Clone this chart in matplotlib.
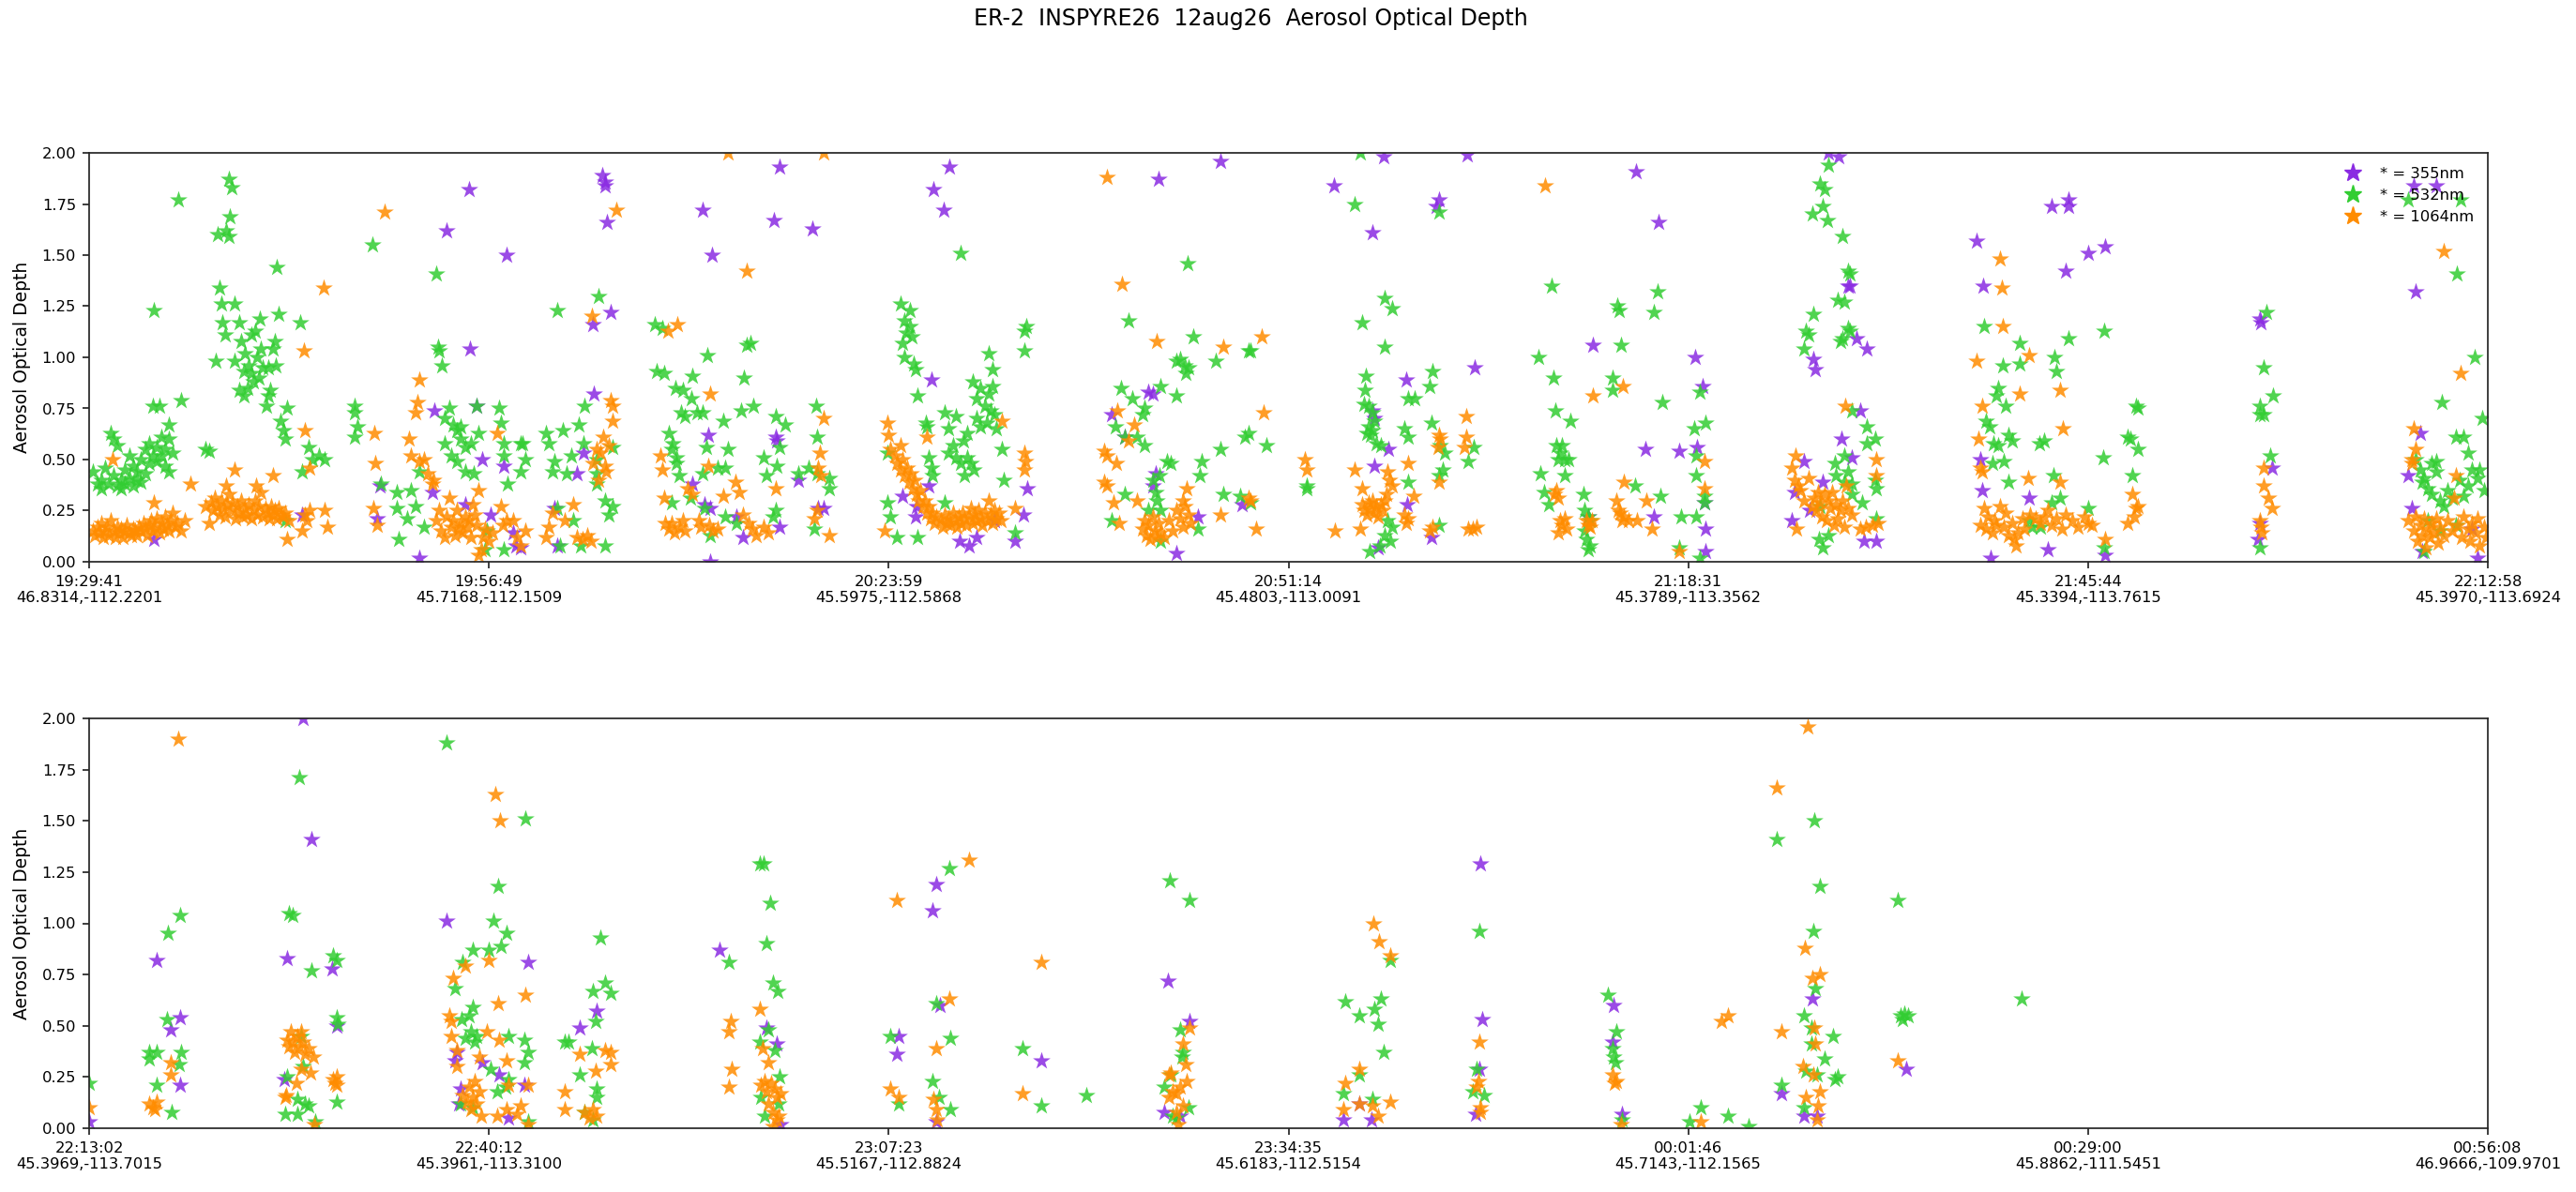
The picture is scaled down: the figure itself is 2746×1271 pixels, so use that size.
import matplotlib
matplotlib.use("Agg")
import matplotlib.pyplot as plt
from matplotlib.lines import Line2D
import numpy as np

# ---------------- data (x = position in tick intervals, y = AOD) ----------------
top_ticklabels = ['19:29:41\n46.8314,-112.2201', '19:56:49\n45.7168,-112.1509',
                  '20:23:59\n45.5975,-112.5868', '20:51:14\n45.4803,-113.0091',
                  '21:18:31\n45.3789,-113.3562', '21:45:44\n45.3394,-113.7615',
                  '22:12:58\n45.3970,-113.6924']
bot_ticklabels = ['22:13:02\n45.3969,-113.7015', '22:40:12\n45.3961,-113.3100',
                  '23:07:23\n45.5167,-112.8824', '23:34:35\n45.6183,-112.5154',
                  '00:01:46\n45.7143,-112.1565', '00:29:00\n45.8862,-111.5451',
                  '00:56:08\n46.9666,-109.9701']

top_355 = [(0.163,0.11),(0.533,0.23),(0.72,0.21),(0.727,0.37),(0.827,0.02),(0.858,0.34),(0.864,0.74),
 (0.895,1.62),(0.942,0.28),(0.95,1.82),(0.953,1.04),(0.968,0.76),(0.984,0.50),(1.005,0.23),(1.036,0.47),
 (1.045,1.50),(1.068,0.08),(1.06,0.14),(1.08,0.07),(1.163,0.26),(1.172,0.08),(1.22,0.43),(1.236,0.53),
 (1.26,1.16),(1.263,0.82),(1.284,1.89),(1.29,1.86),(1.29,1.84),(1.296,1.66),(1.305,1.22),
 (1.508,0.38),(1.534,1.72),(1.539,0.28),(1.549,0.62),(1.554,0.26),(1.554,0.00),(1.558,1.50),(1.62,0.22),
 (1.635,0.12),(1.712,1.67),(1.717,0.61),(1.72,0.59),(1.727,1.93),(1.727,0.17),(1.775,0.40),(1.81,1.63),
 (1.823,0.26),(1.837,0.26),
 (2.034,0.32),(2.068,0.22),(2.07,0.27),(2.10,0.37),(2.106,0.89),(2.111,1.82),(2.138,1.72),(2.151,1.93),
 (2.178,0.10),(2.2,0.08),(2.22,0.12),(2.265,0.20),(2.317,0.10),(2.337,0.23),(2.346,0.36),
 (2.557,0.72),(2.59,0.61),(2.65,0.83),(2.66,0.82),(2.668,0.43),(2.66,0.37),(2.676,1.87),(2.72,0.04),
 (2.774,0.22),(2.83,1.96),(2.885,0.28),
 (3.113,1.84),(3.209,0.74),(3.215,0.70),(3.21,1.61),(3.215,0.47),(3.223,0.07),(3.237,1.98),(3.249,0.55),
 (3.295,0.89),(3.298,0.28),(3.357,0.12),(3.37,1.74),(3.377,1.77),(3.446,1.99),(3.466,0.95),
 (3.761,1.06),(3.75,0.22),(3.87,1.91),(3.893,0.55),(3.915,0.22),(3.926,1.66),(3.977,0.54),(4.017,1.00),
 (4.022,0.56),(4.035,0.86),(4.04,0.29),(4.044,0.16),(4.044,0.05),
 (4.26,0.20),(4.265,0.34),(4.29,0.49),(4.304,0.25),(4.313,0.99),(4.318,0.94),(4.337,0.39),(4.35,2.0),
 (4.376,1.98),(4.383,0.60),(4.40,1.35),(4.405,1.35),(4.41,0.51),(4.42,1.09),(4.43,0.74),(4.44,0.10),
 (4.446,1.04),(4.47,0.10),
 (4.72,1.57),(4.735,0.35),(4.737,1.35),(4.73,0.50),(4.757,0.02),(4.853,0.31),(4.90,0.06),(4.91,1.74),
 (4.945,1.42),(4.95,1.77),(4.95,1.74),(5.0,1.51),(5.043,1.54),(5.043,0.03),
 (5.43,1.19),(5.432,1.17),(5.43,0.19),(5.425,0.11),(5.46,0.46),
 (5.80,0.42),(5.81,0.26),(5.815,1.84),(5.82,1.32),(5.83,0.63),(5.835,0.05),(5.87,1.84),(5.96,0.16),(5.975,0.02)]

top_532 = [(0.01,0.44),(0.02,0.38),(0.03,0.36),(0.03,0.40),(0.04,0.46),(0.05,0.38),(0.055,0.63),(0.06,0.60),
 (0.06,0.42),(0.07,0.37),(0.07,0.57),(0.08,0.36),(0.08,0.40),(0.09,0.45),(0.09,0.38),(0.10,0.52),(0.10,0.41),
 (0.11,0.37),(0.11,0.47),(0.12,0.40),(0.12,0.44),(0.13,0.39),(0.13,0.50),(0.14,0.43),(0.14,0.55),(0.15,0.48),
 (0.15,0.58),(0.16,0.52),(0.16,0.76),(0.163,1.23),(0.17,0.56),(0.17,0.49),(0.175,0.76),(0.18,0.61),(0.18,0.52),
 (0.19,0.55),(0.19,0.47),(0.20,0.67),(0.20,0.60),(0.20,0.44),(0.21,0.53),(0.223,1.77),(0.231,0.79),
 (0.29,0.55),(0.30,0.54),(0.317,0.98),(0.322,1.60),(0.325,1.34),(0.331,1.26),(0.333,1.17),(0.341,1.11),
 (0.343,1.62),(0.349,1.87),(0.35,1.59),(0.352,1.69),(0.356,1.83),(0.364,1.26),(0.364,0.98),(0.375,1.17),
 (0.375,0.84),(0.38,1.08),(0.386,0.93),(0.386,0.81),(0.39,1.02),(0.396,0.85),(0.40,0.96),(0.406,0.92),
 (0.406,1.11),(0.41,0.88),(0.416,1.13),(0.42,1.00),(0.425,0.90),(0.428,1.19),(0.43,1.04),(0.435,0.95),
 (0.443,0.76),(0.448,0.95),(0.448,0.81),(0.453,0.84),(0.459,1.04),(0.464,1.08),(0.468,0.96),(0.469,1.44),
 (0.474,1.21),(0.479,0.69),(0.485,0.64),(0.49,0.60),(0.496,0.75),(0.527,1.17),(0.533,0.44),(0.548,0.56),
 (0.559,0.50),(0.574,0.52),(0.59,0.50),(0.49,0.20),
 (0.664,0.76),(0.664,0.73),(0.67,0.66),(0.664,0.61),(0.709,1.55),(0.73,0.38),(0.77,0.34),(0.774,0.11),
 (0.77,0.26),(0.795,0.21),(0.805,0.35),(0.816,0.27),(0.827,0.44),(0.837,0.17),(0.869,1.41),(0.872,1.05),
 (0.875,1.03),(0.882,0.96),(0.90,0.75),(0.89,0.70),(0.91,0.67),(0.92,0.64),(0.93,0.60),(0.93,0.66),
 (0.942,0.56),(0.89,0.58),(0.905,0.52),(0.92,0.49),(0.942,0.44),(0.955,0.58),(0.963,0.43),(0.974,0.63),
 (0.968,0.76),(1.026,0.75),(1.03,0.68),(1.036,0.58),(1.036,0.52),(1.047,0.38),(1.079,0.58),(1.09,0.50),
 (1.079,0.44),(1.085,0.58),(0.99,0.06),(1.037,0.06),(0.995,0.15),(1.142,0.63),(1.171,1.23),(1.184,0.64),
 (1.15,0.58),(1.165,0.49),(1.16,0.44),(1.194,0.43),(1.17,0.26),(1.178,0.08),(1.21,0.20),(1.23,0.08),
 (1.205,0.52),(1.225,0.67),(1.236,0.58),(1.24,0.76),(1.273,1.30),(1.27,0.50),(1.27,0.38),(1.29,0.30),
 (1.30,0.23),(1.31,0.56),(1.31,0.27),(1.29,0.08),(1.27,0.43),(1.415,1.16),(1.42,0.93),
 (1.434,1.14),(1.438,0.92),(1.45,0.63),(1.458,0.55),(1.46,0.58),(1.467,0.85),(1.47,0.51),(1.47,0.48),
 (1.475,0.42),(1.486,0.84),(1.48,0.73),(1.49,0.71),(1.506,0.80),(1.508,0.91),(1.52,0.73),(1.535,0.73),
 (1.546,1.01),(1.544,0.56),(1.534,0.43),(1.573,0.46),(1.587,0.69),(1.597,0.55),(1.59,0.46),(1.63,0.74),
 (1.638,0.90),(1.645,1.06),(1.655,1.07),(1.661,0.76),(1.688,0.51),(1.693,0.42),(1.72,0.47),(1.717,0.71),
 (1.727,0.56),(1.741,0.67),(1.717,0.25),(1.71,0.22),(1.775,0.43),(1.80,0.46),(1.818,0.76),(1.82,0.61),
 (1.82,0.43),(1.851,0.41),(1.851,0.36),(1.813,0.16),(1.554,0.13),(1.458,0.29),(1.505,0.31),(1.54,0.26),
 (1.592,0.22),(1.62,0.19),
 (1.996,0.53),(1.996,0.29),(2.005,0.22),(2.02,0.12),(2.029,1.26),(2.053,1.23),(2.04,1.18),(2.053,1.15),
 (2.044,1.12),(2.058,1.10),(2.034,1.07),(2.039,1.00),(2.063,0.97),(2.068,0.94),(2.072,0.81),(2.072,0.12),
 (2.092,0.68),(2.096,0.66),(2.10,0.51),(2.106,0.46),(2.11,0.42),(2.14,0.73),(2.14,0.29),(2.15,0.65),
 (2.16,0.57),(2.168,0.71),(2.168,0.51),(2.15,0.53),(2.18,1.51),(2.18,0.48),(2.188,0.59),(2.197,0.63),
 (2.197,0.51),(2.205,0.48),(2.212,0.45),(2.21,0.88),(2.22,0.80),(2.22,0.70),(2.23,0.85),(2.23,0.66),
 (2.24,0.76),(2.245,0.68),(2.25,1.02),(2.25,0.82),(2.255,0.74),(2.26,0.94),(2.26,0.86),(2.265,0.72),
 (2.27,0.65),(2.284,0.55),(2.289,0.40),(2.317,0.14),(2.34,1.13),(2.34,1.03),(2.345,1.15),(2.19,0.42),
 (2.557,0.20),(2.567,0.66),(2.58,0.85),(2.59,0.61),(2.59,0.33),(2.6,1.18),(2.61,0.80),(2.62,0.61),
 (2.64,0.75),(2.635,0.72),(2.64,0.57),(2.65,0.25),(2.66,0.40),(2.668,0.34),(2.67,0.30),(2.678,0.42),
 (2.68,0.86),(2.68,0.25),(2.68,0.10),(2.697,0.49),(2.705,0.48),(2.72,0.81),(2.72,0.98),(2.73,0.99),
 (2.74,0.96),(2.743,0.92),(2.75,0.95),(2.747,1.46),(2.762,1.10),(2.774,0.16),(2.778,0.42),(2.783,0.49),
 (2.817,0.98),(2.83,0.55),(2.836,0.33),(2.88,0.32),(2.89,0.61),(2.90,0.63),(2.90,1.03),
 (2.906,1.03),(2.906,0.29),(2.944,0.57),(3.045,0.37),(3.045,0.36),(3.165,1.75),(3.18,2.00),(3.185,1.17),
 (3.192,0.84),(3.194,0.91),(3.19,0.77),(3.20,0.76),(3.21,0.73),(3.215,0.69),(3.20,0.66),(3.21,0.64),
 (3.195,0.63),(3.205,0.62),(3.22,0.58),(3.23,0.57),(3.24,1.29),(3.24,1.05),(3.26,1.24),(3.247,0.20),
 (3.26,0.17),(3.24,0.13),(3.255,0.10),(3.204,0.05),(3.228,0.08),(3.29,0.65),(3.30,0.61),(3.30,0.80),
 (3.315,0.80),(3.30,0.39),(3.353,0.86),(3.357,0.68),(3.36,0.93),(3.377,1.71),(3.38,0.57),(3.39,0.53),
 (3.386,0.45),(3.377,0.42),(3.377,0.18),(3.449,0.49),(3.463,0.56),
 (3.626,1.00),(3.631,0.43),(3.64,0.34),(3.65,0.28),(3.658,1.35),(3.662,0.90),(3.667,0.74),(3.67,0.57),
 (3.685,0.57),(3.68,0.53),(3.69,0.50),(3.675,0.50),(3.70,0.50),(3.692,0.42),(3.705,0.69),(3.737,0.33),
 (3.74,0.25),(3.75,0.22),(3.755,0.20),(3.74,0.15),(3.745,0.11),(3.755,0.08),(3.75,0.06),(3.81,0.90),
 (3.81,0.84),(3.823,1.25),(3.826,1.23),(3.833,1.06),(3.867,0.37),(3.913,1.22),(3.924,1.32),(3.93,0.32),
 (3.934,0.78),(3.982,0.22),(4.015,0.65),(4.02,0.52),(4.02,0.42),(4.02,0.22),(4.03,0.83),(4.04,0.29),
 (4.04,0.32),(4.044,0.68),(3.977,0.07),(4.03,0.02),
 (4.29,1.04),(4.294,1.13),(4.30,1.11),(4.31,1.70),(4.313,1.21),(4.33,1.85),(4.337,1.74),(4.34,1.82),
 (4.347,1.67),(4.35,1.94),(4.386,1.59),(4.39,1.27),(4.375,1.28),(4.38,1.08),(4.385,1.09),(4.40,1.42),
 (4.405,1.41),(4.40,1.14),(4.405,1.13),(4.41,0.74),(4.446,0.66),(4.446,0.58),(4.467,0.60),(4.467,0.40),
 (4.47,0.36),(4.41,0.38),(4.41,0.33),(4.436,0.29),(4.366,0.48),(4.39,0.52),(4.37,0.42),(4.39,0.39),
 (4.40,0.44),(4.33,0.27),(4.328,0.11),(4.337,0.07),(4.35,0.13),(4.47,0.21),
 (4.74,1.15),(4.745,0.69),(4.755,0.66),(4.76,0.48),(4.764,0.58),(4.776,0.85),(4.77,0.81),(4.787,0.96),
 (4.795,0.76),(4.80,0.62),(4.81,0.59),(4.79,0.49),(4.80,0.39),(4.775,0.57),(4.828,1.07),(4.83,0.97),
 (4.853,0.20),(4.86,0.17),(4.878,0.58),(4.89,0.59),(4.88,0.17),(4.91,0.29),(4.914,0.42),(4.917,1.00),
 (4.92,0.93),(4.93,0.31),(4.95,1.09),(5.0,0.26),(5.038,0.51),(5.04,1.13),(5.04,0.07),(5.10,0.61),
 (5.105,0.60),(5.11,0.42),(5.12,0.76),(5.125,0.75),(5.125,0.55),
 (5.43,0.76),(5.43,0.72),(5.44,0.95),(5.44,0.72),(5.446,1.22),(5.456,0.52),(5.463,0.81),(5.43,0.07),
 (5.80,1.77),(5.82,0.50),(5.83,0.45),(5.835,0.39),(5.84,0.41),(5.85,0.36),(5.86,0.33),(5.86,0.48),
 (5.87,0.49),(5.87,0.44),(5.88,0.30),(5.885,0.78),(5.89,0.27),(5.90,0.35),(5.91,0.31),(5.92,0.61),
 (5.923,1.41),(5.93,0.40),(5.933,1.77),(5.94,0.61),(5.94,0.32),(5.95,0.53),(5.95,0.37),(5.96,0.45),
 (5.967,1.00),(5.975,0.41),(5.98,0.45),(5.985,0.70),(5.99,0.35),(5.85,0.20),(5.88,0.15),(5.92,0.18),(5.84,0.05)]

top_1064 = [(0.01,0.15),(0.015,0.13),(0.02,0.17),(0.025,0.14),(0.03,0.19),(0.035,0.12),(0.04,0.15),(0.045,0.17),
 (0.05,0.13),(0.055,0.20),(0.058,0.50),(0.06,0.15),(0.065,0.12),(0.07,0.17),(0.075,0.14),(0.08,0.16),
 (0.085,0.12),(0.09,0.15),(0.095,0.18),(0.10,0.14),(0.105,0.13),(0.11,0.16),(0.115,0.15),(0.12,0.13),
 (0.125,0.17),(0.13,0.15),(0.135,0.19),(0.14,0.16),(0.145,0.13),(0.15,0.18),(0.155,0.20),(0.16,0.15),
 (0.163,0.29),(0.165,0.17),(0.17,0.21),(0.175,0.14),(0.18,0.19),(0.185,0.16),(0.19,0.22),(0.195,0.18),
 (0.20,0.15),(0.205,0.20),(0.21,0.24),(0.215,0.17),(0.22,0.19),(0.23,0.15),(0.24,0.20),(0.254,0.38),
 (0.29,0.27),(0.30,0.19),(0.305,0.29),(0.31,0.25),(0.315,0.31),(0.32,0.27),(0.325,0.23),(0.33,0.30),
 (0.335,0.26),(0.34,0.22),(0.343,0.37),(0.345,0.28),(0.35,0.33),(0.355,0.25),(0.36,0.29),(0.364,0.45),
 (0.365,0.21),(0.37,0.27),(0.375,0.24),(0.38,0.30),(0.385,0.22),(0.39,0.26),(0.395,0.23),(0.40,0.28),
 (0.405,0.21),(0.41,0.25),(0.415,0.30),(0.417,0.37),(0.42,0.23),(0.425,0.27),(0.43,0.34),(0.435,0.22),
 (0.44,0.26),(0.445,0.24),(0.45,0.21),(0.455,0.27),(0.459,0.42),(0.46,0.23),(0.465,0.25),(0.47,0.21),
 (0.475,0.26),(0.48,0.23),(0.485,0.22),(0.49,0.24),(0.496,0.11),(0.50,0.20),(0.533,0.15),(0.538,1.03),
 (0.54,0.64),(0.54,0.23),(0.552,0.46),(0.552,0.25),(0.587,1.34),(0.59,0.25),(0.595,0.17),(0.545,0.20),
 (0.71,0.26),(0.713,0.63),(0.716,0.48),(0.72,0.18),(0.74,1.71),(0.80,0.60),(0.806,0.52),(0.816,0.73),
 (0.821,0.78),(0.825,0.89),(0.826,0.49),(0.837,0.50),(0.848,0.43),(0.858,0.38),(0.862,0.40),(0.868,0.20),
 (0.875,0.25),(0.88,0.15),(0.89,0.12),(0.895,0.22),(0.90,0.31),(0.905,0.17),(0.91,0.20),(0.915,0.13),
 (0.92,0.25),(0.925,0.16),(0.93,0.19),(0.935,0.14),(0.94,0.22),(0.945,0.17),(0.95,0.20),(0.955,0.12),
 (0.96,0.28),(0.965,0.23),(0.97,0.18),(0.974,0.35),(0.974,0.03),(0.98,0.06),(0.985,0.12),(0.99,0.16),
 (1.00,0.10),(1.01,0.14),(1.02,0.63),(1.03,0.27),(1.035,0.18),(1.045,0.20),(1.06,0.20),(1.07,0.12),
 (1.08,0.08),(1.09,0.15),
 (1.142,0.12),(1.15,0.17),(1.16,0.24),(1.19,0.20),(1.21,0.28),(1.22,0.12),(1.235,0.11),(1.245,0.13),
 (1.255,0.10),(1.257,1.20),(1.26,0.48),(1.27,0.55),(1.275,0.40),(1.28,0.53),(1.285,0.61),(1.29,0.47),
 (1.30,0.57),(1.305,0.79),(1.31,0.69),(1.31,0.76),(1.318,1.72),(1.292,0.44),
 (1.429,0.52),(1.434,0.45),(1.438,0.31),(1.44,0.19),(1.45,0.16),(1.458,0.19),(1.465,0.14),(1.472,1.16),
 (1.448,1.13),(1.475,0.17),(1.485,0.20),(1.49,0.15),(1.496,0.36),(1.508,0.33),(1.525,0.20),(1.53,0.17),
 (1.549,0.47),(1.554,0.82),(1.55,0.18),(1.56,0.15),(1.573,0.16),(1.587,0.32),(1.597,2.00),(1.616,0.39),
 (1.625,0.34),(1.635,0.23),(1.645,1.42),(1.65,0.19),(1.66,0.16),(1.669,0.13),(1.688,0.17),(1.70,0.14),
 (1.717,0.36),(1.813,0.21),(1.82,0.25),(1.823,0.46),(1.827,0.53),(1.83,0.42),(1.837,0.70),(1.837,2.00),
 (1.851,0.13),
 (1.99,0.15),(1.996,0.68),(2.0,0.62),(2.005,0.55),(2.015,0.52),(2.02,0.48),(2.03,0.57),(2.03,0.45),
 (2.035,0.50),(2.04,0.42),(2.045,0.46),(2.05,0.39),(2.055,0.43),(2.06,0.36),(2.065,0.40),(2.07,0.33),
 (2.075,0.30),(2.08,0.35),(2.085,0.27),(2.09,0.30),(2.095,0.24),(2.096,0.61),(2.10,0.27),(2.105,0.21),
 (2.11,0.24),(2.115,0.19),(2.12,0.22),(2.13,0.20),(2.135,0.17),(2.14,0.23),(2.145,0.19),(2.15,0.21),
 (2.155,0.18),(2.16,0.24),(2.165,0.20),(2.17,0.17),(2.175,0.22),(2.18,0.19),(2.185,0.24),(2.19,0.21),
 (2.195,0.18),(2.20,0.22),(2.205,0.26),(2.21,0.19),(2.215,0.23),(2.22,0.20),(2.225,0.25),(2.23,0.21),
 (2.235,0.18),(2.24,0.24),(2.245,0.20),(2.25,0.30),(2.255,0.23),(2.26,0.19),(2.265,0.25),(2.27,0.21),
 (2.275,0.24),(2.28,0.20),(2.284,0.69),(2.317,0.26),(2.34,0.53),(2.342,0.49),(2.34,0.45),
 (2.54,0.54),(2.545,0.52),(2.546,1.88),(2.54,0.39),(2.545,0.37),(2.562,0.29),(2.57,0.48),(2.572,0.74),
 (2.577,0.19),(2.584,1.36),(2.6,0.59),(2.615,0.67),(2.62,0.30),(2.635,0.16),(2.64,0.20),(2.645,0.13),
 (2.65,0.18),(2.655,0.11),(2.66,0.22),(2.665,0.15),(2.67,1.08),(2.67,0.12),(2.675,0.19),(2.68,0.14),
 (2.69,0.12),(2.70,0.20),(2.71,0.15),(2.72,0.25),(2.73,0.21),(2.735,0.30),(2.735,0.17),(2.74,0.27),
 (2.745,0.36),(2.75,0.23),(2.755,0.19),(2.83,0.23),(2.836,1.05),(2.90,0.31),
 (2.906,0.30),(2.92,0.16),(2.933,1.10),(2.937,0.73),(3.04,0.50),(3.045,0.45),(3.115,0.15),(3.165,0.45),
 (3.18,0.16),(3.185,0.36),(3.185,0.28),(3.19,0.25),(3.195,0.23),(3.20,0.29),(3.205,0.26),(3.21,0.30),
 (3.215,0.24),(3.22,0.27),(3.225,0.22),(3.23,0.28),(3.235,0.25),(3.24,0.30),(3.245,0.33),(3.247,0.44),
 (3.252,0.40),(3.26,0.37),(3.29,0.23),(3.295,0.19),(3.30,0.48),(3.30,0.21),(3.314,0.32),(3.353,0.15),
 (3.36,0.17),(3.377,0.62),(3.38,0.60),(3.375,0.56),(3.377,0.39),(3.444,0.71),(3.444,0.61),(3.44,0.56),
 (3.45,0.16),(3.46,0.16),(3.47,0.17),
 (3.641,1.84),(3.665,0.33),(3.67,0.35),(3.675,0.31),(3.68,0.20),(3.685,0.18),(3.69,0.21),(3.695,0.16),
 (3.675,0.14),(3.745,0.20),(3.75,0.18),(3.755,0.17),(3.76,0.20),(3.761,0.81),(3.82,0.30),(3.825,0.25),
 (3.83,0.24),(3.835,0.20),(3.838,0.39),(3.836,0.86),(3.84,0.22),(3.85,0.20),(3.872,0.20),(3.895,0.30),
 (3.91,0.16),(3.977,0.05),(4.04,0.49),(4.04,0.36),
 (4.26,0.46),(4.265,0.40),(4.268,0.52),(4.27,0.16),(4.275,0.37),(4.28,0.35),(4.29,0.30),(4.30,0.41),
 (4.31,0.27),(4.315,0.31),(4.32,0.25),(4.325,0.34),(4.33,0.29),(4.335,0.22),(4.34,0.33),(4.345,0.20),
 (4.35,0.30),(4.355,0.26),(4.36,0.34),(4.365,0.18),(4.37,0.28),(4.375,0.21),(4.38,0.25),(4.385,0.30),
 (4.39,0.17),(4.393,0.76),(4.395,0.37),(4.40,0.26),(4.41,0.23),(4.43,0.16),(4.445,0.17),(4.46,0.18),
 (4.47,0.50),(4.47,0.42),(4.475,0.19),
 (4.722,0.98),(4.727,0.60),(4.73,0.46),(4.735,0.76),(4.735,0.44),(4.73,0.18),(4.74,0.26),(4.745,0.16),
 (4.75,0.22),(4.76,0.14),(4.765,0.20),(4.77,0.18),(4.78,1.48),(4.78,0.27),(4.785,1.34),(4.788,1.15),
 (4.79,0.17),(4.795,0.24),(4.80,0.13),(4.81,0.19),(4.815,0.11),(4.82,0.08),(4.825,0.14),(4.83,0.82),
 (4.835,0.21),(4.84,0.16),(4.85,0.41),(4.853,1.01),(4.855,0.23),(4.87,0.21),(4.88,0.19),(4.89,0.22),
 (4.90,0.25),(4.91,0.18),(4.92,0.21),(4.93,0.84),(4.93,0.39),(4.935,0.16),(4.937,0.65),(4.945,0.23),
 (4.96,0.20),(4.975,0.17),(4.99,0.22),(5.0,0.19),(5.01,0.18),(5.043,0.11),(5.10,0.19),(5.11,0.33),
 (5.115,0.22),(5.12,0.26),(5.125,0.27),
 (5.43,0.20),(5.432,0.17),(5.435,0.14),(5.44,0.46),(5.44,0.37),(5.45,0.31),(5.46,0.26),
 (5.80,0.20),(5.81,0.50),(5.81,0.48),(5.815,0.65),(5.815,0.15),(5.82,0.55),(5.82,0.22),(5.825,0.10),
 (5.83,0.18),(5.835,0.13),(5.84,0.21),(5.845,0.07),(5.85,0.16),(5.855,0.12),(5.86,0.19),(5.865,0.14),
 (5.87,0.21),(5.875,0.09),(5.88,0.17),(5.89,1.52),(5.89,0.13),(5.90,0.20),(5.91,0.15),(5.915,0.31),
 (5.92,0.42),(5.925,0.18),(5.933,0.92),(5.935,0.12),(5.94,0.22),(5.95,0.16),(5.955,0.10),(5.96,0.19),
 (5.97,0.14),(5.975,0.21),(5.98,0.08),(5.99,0.17),(5.995,0.12)]

bot_355 = [(0.0,0.03),(0.168,0.82),(0.205,0.48),(0.227,0.21),(0.228,0.54),(0.488,0.24),(0.496,0.83),
 (0.535,2.00),(0.557,1.41),(0.607,0.78),(0.62,0.50),(0.894,1.01),(0.92,0.37),(0.915,0.33),(0.93,0.19),
 (0.925,0.12),(0.983,0.32),(1.025,0.26),(1.05,0.05),(1.089,0.21),(1.098,0.81),(1.228,0.49),(1.27,0.57),
 (1.577,0.87),(1.695,0.49),(1.719,0.41),(1.73,0.02),(2.02,0.36),(2.024,0.45),(2.11,1.06),(2.119,1.19),
 (2.12,0.03),(2.128,0.60),(2.381,0.33),
 (2.69,0.08),(2.73,0.06),(2.699,0.72),(2.752,0.52),(3.137,0.04),(3.176,0.12),(3.207,0.04),(3.467,0.07),
 (3.478,0.29),(3.48,1.29),(3.484,0.53),(3.81,0.42),(3.814,0.60),(3.834,0.07),
 (4.232,0.17),(4.29,0.06),(4.323,0.06),(4.31,0.63),(4.546,0.29)]

bot_532 = [(0.0,0.22),(0.15,0.37),(0.17,0.37),(0.15,0.34),(0.168,0.21),(0.194,0.53),(0.198,0.95),(0.207,0.08),
 (0.226,0.31),(0.228,1.04),(0.23,0.37),
 (0.49,0.07),(0.496,0.25),(0.50,1.05),(0.51,1.04),(0.52,0.14),(0.52,0.07),(0.526,1.71),(0.53,0.45),
 (0.535,0.30),(0.54,0.12),(0.55,0.11),(0.557,0.77),(0.565,0.03),(0.61,0.84),(0.62,0.82),(0.62,0.54),
 (0.622,0.51),(0.62,0.13),
 (0.893,1.88),(0.915,0.68),(0.932,0.53),(0.935,0.81),(0.94,0.44),(0.95,0.55),(0.955,0.47),(0.96,0.87),
 (0.96,0.59),(0.965,0.42),(0.97,0.45),(0.93,0.12),(0.96,0.10),(1.0,0.87),(1.004,0.29),(1.012,1.01),
 (1.02,0.18),(1.022,1.18),(1.03,0.89),(1.043,0.20),(1.044,0.95),(1.05,0.45),(1.05,0.24),(1.089,0.43),
 (1.089,0.32),(1.09,1.51),(1.097,0.37),(1.097,0.03),
 (1.19,0.42),(1.20,0.42),(1.228,0.26),(1.24,0.08),(1.258,0.39),(1.26,0.67),(1.268,0.52),(1.27,0.19),
 (1.27,0.15),(1.278,0.93),(1.29,0.71),(1.26,0.04),(1.304,0.66),
 (1.60,0.81),(1.677,1.29),(1.687,1.29),(1.693,0.90),(1.704,1.10),(1.71,0.71),(1.723,0.67),(1.698,0.48),
 (1.677,0.42),(1.715,0.38),(1.727,0.25),(1.68,0.15),(1.725,0.12),(1.69,0.06),
 (2.005,0.45),(2.024,0.12),(2.11,0.23),(2.119,0.61),(2.125,0.15),(2.151,1.27),(2.155,0.44),(2.155,0.09),
 (2.335,0.39),(2.381,0.11),(2.494,0.16),
 (2.69,0.20),(2.702,1.21),(2.705,0.26),(2.73,0.48),(2.733,0.35),(2.735,0.37),(2.75,0.10),(2.752,1.11),
 (2.71,0.06),(2.72,0.05),
 (3.137,0.17),(3.142,0.62),(3.176,0.26),(3.177,0.55),(3.21,0.14),(3.215,0.58),(3.224,0.51),(3.232,0.63),
 (3.238,0.37),(3.255,0.82),
 (3.46,0.18),(3.47,0.29),(3.478,0.96),(3.49,0.16),(3.80,0.65),(3.81,0.39),(3.812,0.35),(3.817,0.32),
 (3.819,0.47),(3.834,0.04),
 (4.004,0.03),(4.031,0.10),(4.099,0.06),(4.15,0.01),(4.221,1.41),(4.232,0.21),(4.289,0.55),(4.29,0.10),
 (4.295,0.28),(4.308,0.49),(4.308,0.41),(4.312,0.96),(4.315,1.50),(4.318,0.68),(4.323,0.26),(4.329,1.18),
 (4.34,0.34),(4.363,0.45),(4.367,0.24),(4.373,0.25),
 (4.523,1.11),(4.53,0.55),(4.535,0.53),(4.54,0.56),(4.55,0.55),(4.833,0.63)]

bot_1064 = [(0.0,0.10),(0.15,0.12),(0.16,0.10),(0.165,0.09),(0.17,0.13),(0.205,0.32),(0.205,0.26),(0.224,1.90),
 (0.49,0.15),(0.492,0.16),(0.495,0.43),(0.50,0.40),(0.505,0.47),(0.51,0.42),(0.515,0.37),(0.518,0.22),
 (0.52,0.45),(0.525,0.40),(0.53,0.47),(0.535,0.42),(0.54,0.36),(0.53,0.29),(0.55,0.39),(0.553,0.27),
 (0.56,0.35),(0.564,0.02),(0.61,0.24),(0.615,0.22),(0.62,0.25),(0.62,0.21),
 (0.90,0.55),(0.905,0.52),(0.905,0.45),(0.911,0.73),(0.92,0.38),(0.92,0.30),(0.935,0.16),(0.94,0.79),
 (0.945,0.13),(0.95,0.20),(0.955,0.09),(0.96,0.15),(0.965,0.23),(0.97,0.12),(0.975,0.35),(0.975,0.18),
 (0.98,0.06),(0.996,0.47),(1.0,0.82),(1.015,1.63),(1.02,0.06),(1.022,0.61),(1.025,0.43),(1.028,1.50),
 (1.044,0.33),(1.05,0.21),(1.045,0.09),(1.07,0.07),(1.08,0.11),(1.091,0.65),(1.097,0.21),(1.097,0.02),
 (1.19,0.18),(1.19,0.09),(1.228,0.36),(1.24,0.08),(1.25,0.05),(1.26,0.09),(1.266,0.28),(1.27,0.06),
 (1.29,0.38),(1.304,0.37),(1.304,0.31),
 (1.60,0.47),(1.60,0.20),(1.605,0.52),(1.607,0.29),(1.677,0.58),(1.685,0.39),(1.68,0.21),(1.69,0.23),
 (1.70,0.32),(1.695,0.18),(1.70,0.12),(1.705,0.22),(1.71,0.08),(1.715,0.19),(1.72,0.04),(1.72,0.15),
 (1.725,0.06),(1.73,0.17),(1.71,0.01),
 (2.005,0.19),(2.021,1.11),(2.024,0.15),(2.113,0.14),(2.12,0.39),(2.12,0.09),(2.122,0.04),(2.151,0.63),
 (2.2,1.31),(2.335,0.17),(2.381,0.81),
 (2.70,0.26),(2.705,0.27),(2.70,0.15),(2.71,0.18),(2.72,0.17),(2.72,0.08),(2.724,0.02),(2.735,0.41),
 (2.737,0.11),(2.744,0.31),(2.746,0.23),(2.73,0.20),(2.752,0.49),
 (3.137,0.09),(3.142,0.22),(3.176,0.12),(3.177,0.29),(3.211,0.11),(3.213,1.00),(3.224,0.06),(3.226,0.91),
 (3.254,0.84),(3.254,0.13),
 (3.475,0.23),(3.47,0.20),(3.48,0.10),(3.48,0.08),(3.478,0.42),(3.81,0.26),(3.815,0.22),(3.82,0.23),
 (3.831,0.02),
 (4.031,0.03),(4.082,0.52),(4.099,0.55),(4.221,1.66),(4.232,0.47),(4.287,0.30),(4.291,0.88),(4.294,0.15),
 (4.298,1.96),(4.31,0.73),(4.312,0.26),(4.315,0.49),(4.318,0.41),(4.323,0.04),(4.325,0.11),(4.329,0.18),
 (4.33,0.75),(4.523,0.33)]

wavelength_labels = ['* = 355nm', '* = 532nm', '* = 1064nm']
colors = ['#8A2BE2', '#32CD32', '#FF8C00']

# ---------------- figure ----------------
W, H = 2746, 1271
fig = plt.figure(figsize=(W / 100, H / 100), dpi=100)
L = 95 / W
AW = (2652 - 95) / W
ax_top = fig.add_axes([L, 1 - 599 / H, AW, (599 - 163) / H])
ax_bot = fig.add_axes([L, 1 - 1203 / H, AW, (1203 - 766) / H])

fig.suptitle('ER-2  INSPYRE26  12aug26  Aerosol Optical Depth', x=1333 / W, y=1 - 8 / H,
             va='top', fontsize=17)

def draw(ax, series, ticklabels):
    for pts, c in zip(series, colors):
        arr = np.array(pts)
        ax.scatter(arr[:, 0], arr[:, 1], marker='*', s=200, color=c, alpha=0.85,
                   linewidths=0, zorder=2)
    ax.set_xlim(0, 6)
    ax.set_ylim(0, 2)
    ax.set_xticks(np.arange(7))
    ax.set_xticklabels(ticklabels, fontsize=11.8)
    ax.set_yticks(np.arange(0, 2.01, 0.25))
    ax.set_yticklabels(['%.2f' % v for v in np.arange(0, 2.01, 0.25)], fontsize=11.8)
    ax.set_ylabel('Aerosol Optical Depth', fontsize=13.5, labelpad=8)
    ax.tick_params(axis='both', direction='out', length=5, width=1.25, color='#262626',
                   labelcolor='black', pad=5)
    for sp in ax.spines.values():
        sp.set_color('#262626')
        sp.set_linewidth(1.25)

draw(ax_top, [top_355, top_532, top_1064], top_ticklabels)
draw(ax_bot, [bot_355, bot_532, bot_1064], bot_ticklabels)

handles = [Line2D([], [], marker='*', ls='', color=c, markersize=14) for c in colors]
ax_top.legend(handles, wavelength_labels, loc='upper right', frameon=False, fontsize=11.8,
              handletextpad=0.8, labelspacing=0.5)

fig.savefig('out.png', dpi=100)
